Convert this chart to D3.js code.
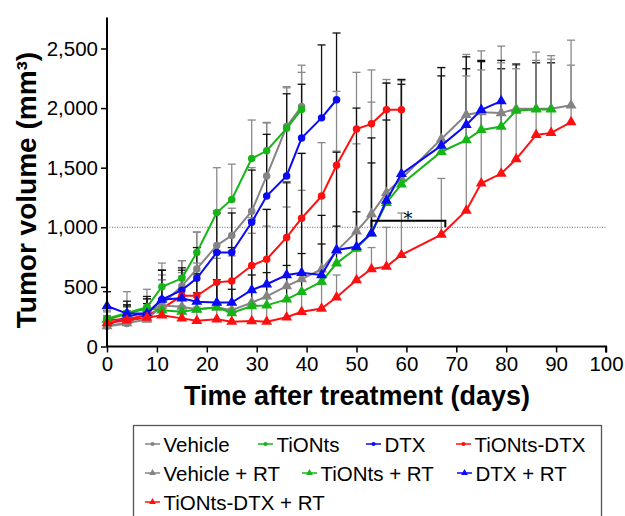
<!DOCTYPE html>
<html>
<head>
<meta charset="utf-8">
<script src="https://cdn.jsdelivr.net/npm/d3@7"></script>
<style>
  body { margin: 0; background: #fff; }
  svg { display: block; font-family: "Liberation Sans", Arial, sans-serif; }
</style>
</head>
<body>
<svg id="chart" width="625" height="516"></svg>
<script>
// days of measurement
const days = [0, 4, 8, 11, 15, 18, 22, 25, 29, 32, 36, 39, 43, 46, 50, 53, 56, 59, 67, 72, 75, 79, 82, 86, 89, 93];

// mean tumour volume (mm3) and upper error bar end for each group
const vehicle      = [169, 192, 290, 352, 507, 651, 848, 932, 1135, 1431, 1845, 2014];
const vehicleTop   = [300, 330, 400, 600, 720, 960, 1140, 1160, 1500, 1880, 2180, 2360];
const tionts       = [234, 282, 330, 501, 572, 789, 1124, 1234, 1577, 1642, 1830, 1989];
const tiontsTop    = [460, 460, 480, 700, 720, 960, 1500, 1530, 1900, 1875, 2170, 2300];
const dtx          = [177, 253, 282, 394, 473, 572, 789, 789, 1042, 1262, 1431, 1749, 1918, 2070];
const dtxTop       = [330, 350, 420, 640, 660, 830, 1120, 1120, 1480, 1780, 2120, 2200, 2530, 2630];
const tdtx         = [220, 230, 262, 318, 425, 425, 538, 549, 679, 732, 915, 1076, 1262, 1521, 1825, 1868, 1986, 1986];
const tdtxTop      = [290, 300, 340, 560, 590, 600, 740, 760, 1080, 1150, 1370, 1620, 1710, 2140, 2300, 2320, 2210, 2230];
const vehicleRT    = [172, 197, 225, 344, 334, 312, 329, 305, 368, 420, 507, 566, 648, 800, 966, 1111, 1290, 1408, 1741, 1944, 1966, 1958, 1994, 1994, 1994, 2023];
const vehicleRTTop = [250, 300, 330, 560, 620, 700, 780, 800, 950, 1010, 1170, 1310, 1250, 1640, 1700, 2050, 2240, 2240, 2340, 2450, 2480, 2520, 2360, 2470, 2440, 2570];
const tiontsRT     = [225, 276, 318, 304, 292, 310, 329, 281, 340, 345, 395, 459, 544, 698, 824, 950, 1206, 1361, 1634, 1732, 1817, 1845, 1980, 1989, 1989];
const tiontsRTTop  = [330, 340, 360, 400, 420, 450, 560, 480, 600, 620, 680, 780, 860, 1010, 1130, 1540, 1900, 2200, 2270, 2330, 2390, 2330, 2370, 2380, 2380];
const dtxRT        = [340, 276, 276, 394, 404, 376, 369, 369, 474, 522, 600, 619, 600, 810, 837, 950, 1225, 1448, 1685, 1859, 1986, 2059];
const dtxRTTop     = [460, 380, 400, 640, 640, 610, 800, 830, 1060, 1150, 1380, 1620, 1100, 1630, 2000, 1750, 2210, 2240, 2340, 2430, 2400, 2400];
const tdtxRT       = [197, 220, 242, 262, 236, 216, 228, 208, 214, 208, 245, 291, 319, 413, 558, 650, 670, 768, 938, 1141, 1369, 1451, 1572, 1775, 1792, 1882];
const tdtxRTTop    = [260, 280, 300, 380, 340, 330, 350, 320, 330, 340, 390, 450, 520, 600, 800, 830, 1000, 1120, 1410, 2270, 2320, 2380, 2330, 2400, 2410, 2360];

const xTicks = [0, 10, 20, 30, 40, 50, 60, 70, 80, 90, 100];
const yTicks = [0, 500, 1000, 1500, 2000, 2500];
const refLine = 1000;
const sigBracket = {from: 53, to: 67.8, level: 1055, base: 1000, starDay: 60.3, starLevel: 1120};

const gray = '#848484', green = '#16b516', blue = '#0a0af5', red = '#ff1010';

const groups = [
  {name: 'Vehicle',           mean: vehicle,   top: vehicleTop,   color: gray,  shape: 'circle',   err: '#8a8a8a'},
  {name: 'TiONts',            mean: tionts,    top: tiontsTop,    color: green, shape: 'circle',   err: '#8a8a8a'},
  {name: 'DTX',               mean: dtx,       top: dtxTop,       color: blue,  shape: 'circle',   err: '#111'},
  {name: 'TiONts-DTX',        mean: tdtx,      top: tdtxTop,      color: red,   shape: 'circle',   err: '#8a8a8a'},
  {name: 'Vehicle + RT',      mean: vehicleRT, top: vehicleRTTop, color: gray,  shape: 'triangle', err: '#8a8a8a'},
  {name: 'TiONts + RT',       mean: tiontsRT,  top: tiontsRTTop,  color: green, shape: 'triangle', err: '#111'},
  {name: 'DTX + RT',          mean: dtxRT,     top: dtxRTTop,     color: blue,  shape: 'triangle', err: '#111'},
  {name: 'TiONts-DTX + RT',   mean: tdtxRT,    top: tdtxRTTop,    color: red,   shape: 'triangle', err: '#8a8a8a'}
];

const svg = d3.select('#chart');

const x = d3.scaleLinear().domain([0, 100]).range([107, 606]);
const y = d3.scaleLinear().domain([0, 2760]).range([346.5, 17.5]);

const symbolFor = (shape, size) => d3.symbol()
  .type(shape === 'circle' ? d3.symbolCircle : d3.symbolTriangle)
  .size(size)();

// reference line at 1,000
svg.append('line')
  .attr('x1', x(0)).attr('x2', x(100))
  .attr('y1', y(refLine)).attr('y2', y(refLine))
  .attr('stroke', '#444').attr('stroke-width', 0.8)
  .attr('stroke-dasharray', '1,1.5');

// error bars first so lines sit on top
groups.forEach((g) => {
  const pts = g.mean.map((v, i) => ({d: days[i], v: v, t: g.top[i]}));
  const eb = svg.append('g').attr('stroke', g.err).attr('stroke-width', 1.3);
  eb.selectAll('line.v').data(pts).enter().append('line')
    .attr('x1', (p) => x(p.d)).attr('x2', (p) => x(p.d))
    .attr('y1', (p) => y(p.v)).attr('y2', (p) => y(p.t));
  eb.selectAll('line.c').data(pts).enter().append('line')
    .attr('x1', (p) => x(p.d) - 4).attr('x2', (p) => x(p.d) + 4)
    .attr('y1', (p) => y(p.t)).attr('y2', (p) => y(p.t));
});

const line = d3.line().x((p) => x(p.d)).y((p) => y(p.v));

groups.forEach((g) => {
  const pts = g.mean.map((v, i) => ({d: days[i], v: v}));
  svg.append('path')
    .datum(pts)
    .attr('fill', 'none')
    .attr('stroke', g.color)
    .attr('stroke-width', 2)
    .attr('d', line);
  svg.append('g').selectAll('path').data(pts).enter().append('path')
    .attr('transform', (p) => 'translate(' + x(p.d) + ',' + y(p.v) + ')')
    .attr('d', symbolFor(g.shape, g.shape === 'circle' ? 44 : 52))
    .attr('fill', g.color);
});

// significance bracket
svg.append('path')
  .attr('fill', 'none').attr('stroke', '#000').attr('stroke-width', 2)
  .attr('d', d3.line()([
    [x(sigBracket.from), y(sigBracket.base)],
    [x(sigBracket.from), y(sigBracket.level)],
    [x(sigBracket.to), y(sigBracket.level)],
    [x(sigBracket.to), y(sigBracket.base)]
  ]));
svg.append('text')
  .attr('x', x(sigBracket.starDay)).attr('y', y(sigBracket.starLevel) + 12)
  .attr('text-anchor', 'middle')
  .attr('font-family', '"DejaVu Serif", serif')
  .attr('font-size', 18)
  .text('*');

// axes
const xAxis = d3.axisBottom(x).tickValues(xTicks).tickSize(6).tickPadding(4);
const yAxis = d3.axisLeft(y).tickValues(yTicks).tickFormat(d3.format(',')).tickSize(6).tickPadding(3);

const gx = svg.append('g').attr('transform', 'translate(0,' + y(0) + ')').call(xAxis);
const gy = svg.append('g').attr('transform', 'translate(' + x(0) + ',0)').call(yAxis);

[gx, gy].forEach((g) => {
  g.select('.domain').attr('stroke', '#000').attr('stroke-width', 2);
  g.selectAll('.tick line').attr('stroke', '#000').attr('stroke-width', 1.5);
  g.selectAll('.tick text').attr('font-size', 20.5).attr('fill', '#000')
    .attr('font-family', '"Liberation Sans", Arial, sans-serif');
});
gx.select('.domain').attr('d', 'M' + x(0) + ',0H' + x(100) + 'V6');
gy.select('.domain').attr('d', 'M0,' + y(0) + 'V' + y.range()[1]);

svg.append('text')
  .attr('x', 357).attr('y', 405)
  .attr('text-anchor', 'middle')
  .attr('font-size', 27).attr('font-weight', 'bold')
  .text('Time after treatment (days)');

svg.append('text')
  .attr('transform', 'translate(36,190) rotate(-90)')
  .attr('text-anchor', 'middle')
  .attr('font-size', 28).attr('font-weight', 'bold')
  .text('Tumor volume (mm³)');

// legend
const legend = svg.append('g');
legend.append('rect')
  .attr('x', 133.5).attr('y', 425.5).attr('width', 468).attr('height', 110)
  .attr('fill', 'none').attr('stroke', '#555').attr('stroke-width', 1.3);

// x of each legend entry, row by row
const legendLayout = [
  [145, 444], [258, 444], [366, 444], [456, 444],
  [145, 473], [302, 473], [457, 473],
  [145, 502]
];

groups.forEach((g, i) => {
  const item = legend.append('g')
    .attr('transform', 'translate(' + legendLayout[i][0] + ',' + legendLayout[i][1] + ')');
  item.append('line')
    .attr('x1', 0).attr('x2', 15).attr('y1', 0).attr('y2', 0)
    .attr('stroke', g.color).attr('stroke-width', 1.5);
  item.append('path')
    .attr('transform', 'translate(7.5,0)')
    .attr('d', symbolFor(g.shape, g.shape === 'circle' ? 14 : 20))
    .attr('fill', g.color);
  item.append('text')
    .attr('x', 18.5).attr('y', 7.5)
    .attr('font-size', 20.5)
    .text(g.name);
});
</script>
</body>
</html>
